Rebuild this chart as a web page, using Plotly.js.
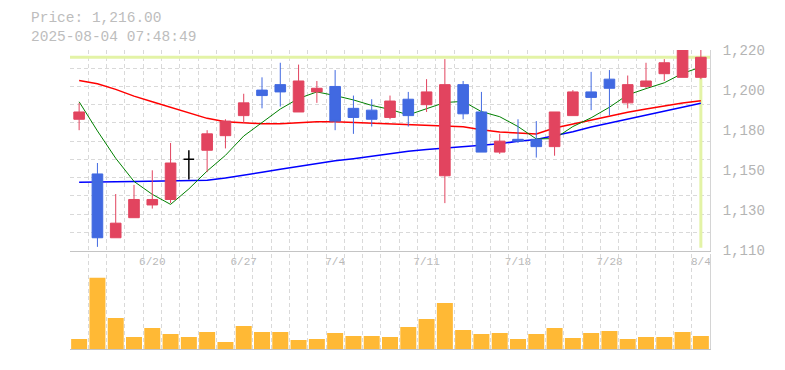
<!DOCTYPE html>
<html>
<head>
<meta charset="utf-8">
<script src="https://cdn.plot.ly/plotly-3.0.1.min.js"></script>
<style>html,body{margin:0;padding:0;background:#fff;}#chart{width:785px;height:370px;}</style>
</head>
<body>
<div id="chart"></div>
<script>
// ---- data ----
const dates = ['6/16','6/17','6/18','6/19','6/20','6/23','6/24','6/25','6/26','6/27',
  '6/30','7/1','7/2','7/3','7/4','7/7','7/8','7/9','7/10','7/11',
  '7/14','7/15','7/16','7/17','7/18','7/22','7/23','7/24','7/25','7/28',
  '7/29','7/30','7/31','8/1','8/4'];
const openP  = [1182,1152,1117,1128,1135,1138,1160,1165,1173,1184,1198,1201,1186,1197,1200,1188,1187,1183,1193,1190,1151,1201,1186,1164,1171,1171,1167,1184,1197,1204,1191,1200,1207,1205,1205];
const highP  = [1191,1158,1141,1146,1154,1169,1165,1176,1182,1196,1205,1213,1212,1203,1209,1195,1193,1195,1197,1204,1215,1203,1197,1174,1182,1181,1186,1198,1208,1209,1206,1213,1215,1224,1220];
const lowP   = [1176,1112,1117,1128,1133,1136,1149,1153,1166,1180,1188,1189,1186,1191,1176,1174,1178,1182,1178,1186,1136,1182,1164,1163,1169,1161,1162,1184,1187,1184,1188,1199,1203,1205,1204];
const closeP = [1186,1117,1125,1138,1138,1158,1160,1174,1181,1191,1195,1197,1203,1199,1181,1183,1182,1192,1184,1197,1201,1185,1164,1170,1170,1167,1186,1197,1194,1199,1201,1203,1213,1221,1216];
const ma5  = [1191.6,1175.6,1160.6,1147.9,1140.8,1135.3,1143.8,1153.6,1162.2,1172.8,1180.2,1187.6,1193.4,1197.0,1195.0,1192.6,1189.6,1187.4,1184.4,1187.6,1191.2,1191.8,1186.2,1183.4,1178.0,1171.2,1171.4,1178.0,1182.8,1188.6,1195.4,1198.8,1202.0,1207.2,1210.6];
const ma25 = [1203.3,1201.5,1198.4,1194.7,1191.6,1188.7,1185.6,1182.5,1180.7,1180.1,1179.5,1179.5,1180.1,1180.7,1180.6,1180.2,1179.8,1179.5,1178.9,1178.4,1178.0,1177.9,1176.3,1175.0,1174.5,1173.9,1177.2,1179.4,1181.5,1183.9,1185.8,1187.6,1189.3,1190.9,1192.2];
const ma75 = [1147.4,1147.4,1147.7,1147.9,1148.1,1148.1,1148.3,1148.5,1149.8,1151.2,1152.9,1154.6,1156.2,1157.9,1159.2,1160.4,1161.9,1163.2,1164.5,1165.4,1166.3,1167.3,1167.8,1168.5,1170.0,1170.9,1172.9,1175.1,1177.7,1179.9,1182.0,1184.1,1186.5,1188.7,1190.8];
const volume = [100,713,310,120,210,150,120,170,70,230,170,170,90,100,160,130,130,120,220,300,460,190,150,160,100,150,210,110,160,180,100,120,120,170,130];
const xTickLabels = ['6/20','6/27','7/4','7/11','7/18','7/28','8/4'];
const yTickVals = [1110,1132,1154,1176,1198,1220];
const yTickText = ['1,110','1,130','1,150','1,180','1,200','1,220'];
const timestamp = '2025-08-04 07:48:49';

// ---- styling ----
const UP = '#e2445f', DOWN = '#4169e1', DOJI = '#000000';
const GRID = '#d9d9d9', AXIS = '#c4c4c4';
const PRICE_LINE = '#e3f3a6';
const FONT = 'Liberation Mono, DejaVu Sans Mono, monospace';
const yRange = [1110, 1220];
const vRange = [0, 950];

const idx = dates.map((d, i) => i);
const last = idx.length - 1;
const xRange = [-0.5, last + 0.5];
const lastClose = closeP[last];

function candles(cond, upC, downC, w) {
  const ix = idx.filter(cond);
  return {
    type: 'candlestick', xaxis: 'x3', yaxis: 'y3',
    x: ix, open: ix.map(i => openP[i]), high: ix.map(i => highP[i]),
    low: ix.map(i => lowP[i]), close: ix.map(i => closeP[i]),
    increasing: {line: {color: upC, width: w}, fillcolor: upC},
    decreasing: {line: {color: downC, width: w}, fillcolor: downC},
    whiskerwidth: 0, hoverinfo: 'skip', showlegend: false
  };
}
function line(xs, ys, color, w) {
  return {type: 'scatter', mode: 'lines', x: xs, y: ys, xaxis: 'x', yaxis: 'y',
    line: {color: color, width: w}, hoverinfo: 'skip', showlegend: false, cliponaxis: true};
}

const traces = [
  // current-price guide lines (under everything else)
  line(xRange, [lastClose, lastClose], PRICE_LINE, 3),
  line([last, last], [yRange[0] + 1.5, lastClose], PRICE_LINE, 3),
  // moving averages
  line(idx, ma75, '#0000ff', 1.5),
  line(idx, ma25, '#ff0000', 1.5),
  line(idx, ma5, '#008000', 1),
  // candles on an overlaid subplot so they sit above the lines
  candles(i => closeP[i] > openP[i], UP, UP, 1),
  candles(i => closeP[i] < openP[i], DOWN, DOWN, 1),
  candles(i => closeP[i] === openP[i], DOJI, DOJI, 1.5),
  {type: 'bar', x: idx, y: volume, xaxis: 'x2', yaxis: 'y2',
   marker: {color: '#ffb935', line: {width: 0}}, hoverinfo: 'skip', showlegend: false}
];

const gridMinorX = {tickmode: 'linear', tick0: -0.5, dtick: 1, showgrid: true,
  gridcolor: GRID, griddash: '4px,3px', gridwidth: 1, ticks: ''};

const priceText = 'Price: ' + lastClose.toLocaleString('en-US', {minimumFractionDigits: 2, maximumFractionDigits: 2});

const layout = {
  width: 785, height: 370,
  margin: {l: 70, r: 75, t: 50, b: 21},
  paper_bgcolor: '#ffffff', plot_bgcolor: '#ffffff',
  showlegend: false, boxgap: 0.17, bargap: 0.125,
  xaxis: {
    domain: [0, 1], anchor: 'y', range: xRange, fixedrange: true,
    rangeslider: {visible: false},
    tickmode: 'array', tickvals: xTickLabels.map(d => dates.indexOf(d)), ticktext: xTickLabels,
    tickfont: {family: FONT, size: 11, color: '#b8b8b8'}, ticks: '',
    showgrid: false, minor: gridMinorX, zeroline: false,
    showline: true, linecolor: AXIS, linewidth: 1, automargin: false
  },
  xaxis3: {
    overlaying: 'x', anchor: 'y3', range: xRange, fixedrange: true, visible: false,
    rangeslider: {visible: false}, showgrid: false, zeroline: false
  },
  xaxis2: {
    domain: [0, 1], anchor: 'y2', range: xRange, fixedrange: true,
    showticklabels: false, ticks: '', showgrid: false, minor: gridMinorX, zeroline: false,
    showline: true, linecolor: AXIS, linewidth: 1
  },
  yaxis: {
    domain: [0.3294, 1], anchor: 'x', range: yRange, side: 'right', fixedrange: true,
    tickmode: 'array', tickvals: yTickVals, ticktext: yTickText,
    tickfont: {family: FONT, size: 14, color: '#b4b4b4'}, ticks: '', ticklabelstandoff: 9,
    showgrid: false, zeroline: false,
    minor: {tickmode: 'linear', tick0: yRange[0], dtick: 10, showgrid: true,
      gridcolor: GRID, griddash: '4px,3px', gridwidth: 1, ticks: ''},
    showline: true, linecolor: '#d4d4d4', linewidth: 1, automargin: false
  },
  yaxis3: {
    overlaying: 'y', anchor: 'x3', range: yRange, fixedrange: true, visible: false,
    showgrid: false, zeroline: false
  },
  yaxis2: {
    domain: [0, 0.3177], anchor: 'x2', range: vRange, side: 'right', fixedrange: true,
    showticklabels: false, ticks: '', showgrid: false, zeroline: false,
    showline: true, linecolor: '#d4d4d4', linewidth: 1
  },
  annotations: [
    {xref: 'paper', yref: 'paper', x: (29 - 70) / 640, y: 1 + (50 - 8) / 299,
     xanchor: 'left', yanchor: 'top', showarrow: false, align: 'left',
     text: priceText + '<br>' + timestamp, font: {family: FONT, size: 14.5, color: '#bdbdbd'}}
  ]
};

Plotly.newPlot('chart', traces, layout, {displayModeBar: false, staticPlot: true});
</script>
</body>
</html>
